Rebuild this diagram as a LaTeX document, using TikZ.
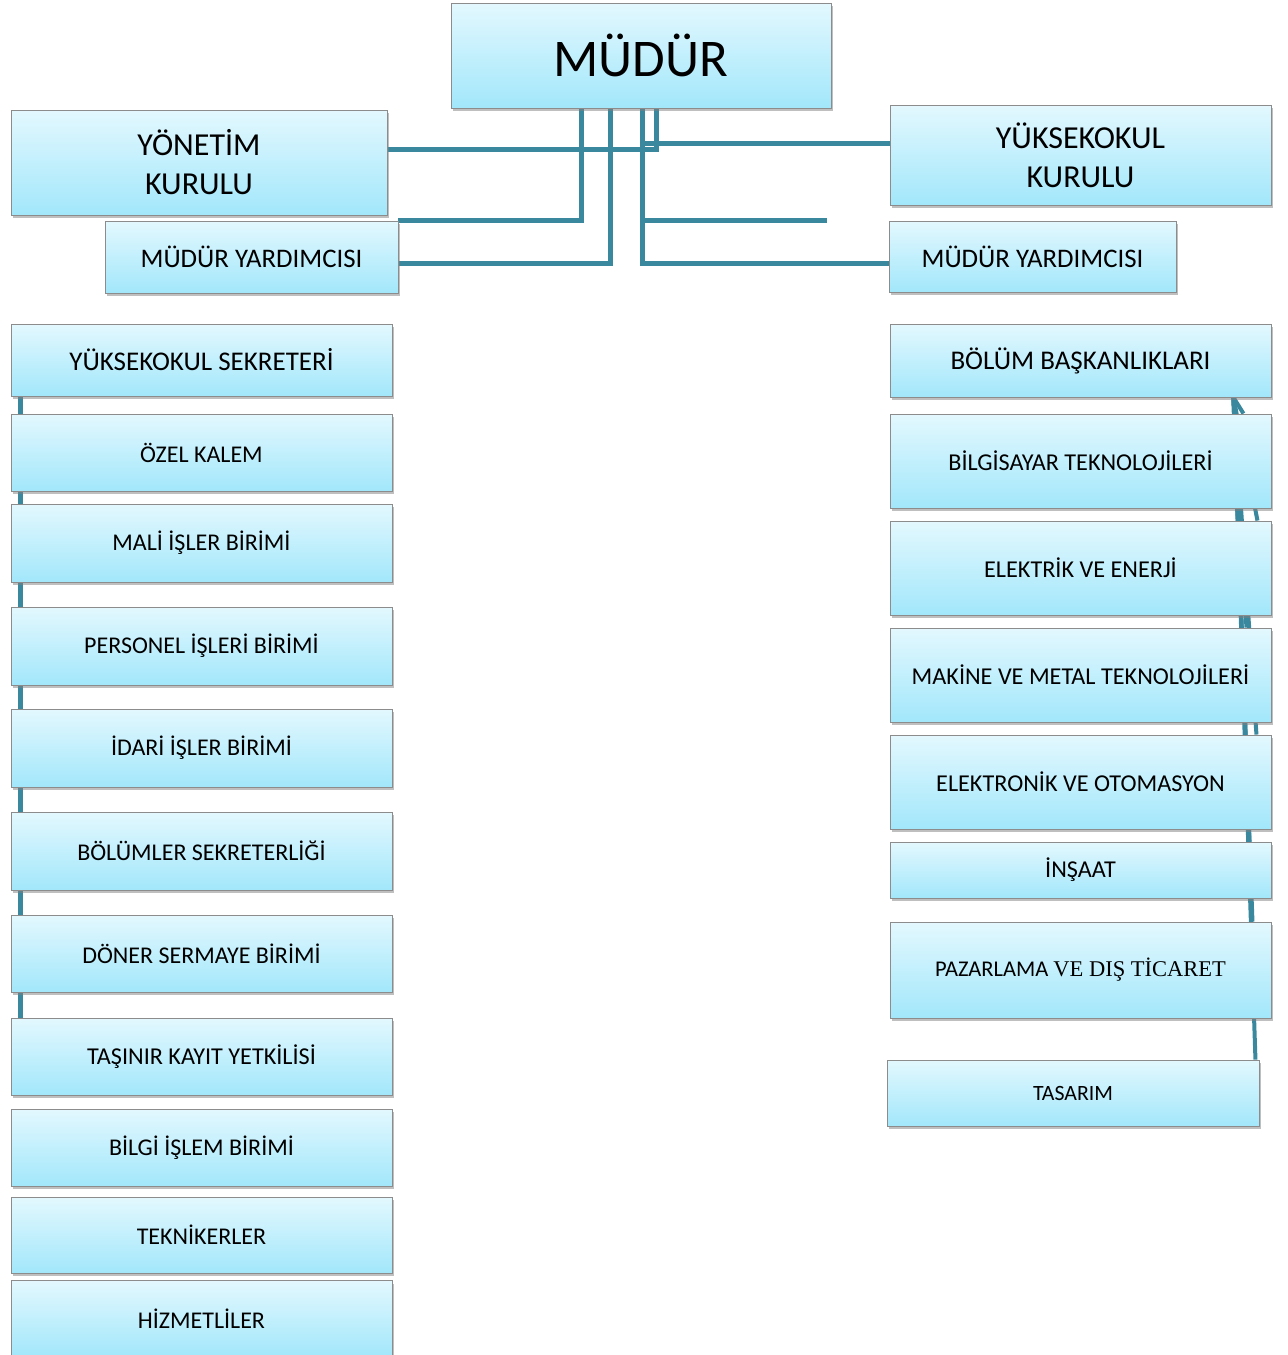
\documentclass[tikz,border=0pt]{standalone}
\usepackage{fontspec}
\setmainfont{Carlito}
\newfontfamily\serifpart{Liberation Serif}
\usetikzlibrary{shadows}
\definecolor{boxtop}{HTML}{E3F8FE}
\definecolor{boxbot}{HTML}{A2E7FB}
\definecolor{linkcol}{HTML}{3A889E}
\pgfdeclarelayer{background}
\pgfsetlayers{background,main}

\begin{document}
\begin{tikzpicture}[x=1pt,y=-1pt,
  unit/.style={draw=gray!90,line width=0.9pt,top color=boxtop,bottom color=boxbot,
    drop shadow={shadow xshift=2pt,shadow yshift=-3pt,opacity=0.5},
    inner sep=0pt,align=center,font=\fontsize{24}{28}\selectfont},
  left/.style={unit,minimum width=381pt},
  dept/.style={unit,minimum width=381pt,font=\fontsize{24.2}{28}\selectfont},
  link/.style={draw=linkcol,line width=5pt},
  thin link/.style={draw=linkcol,line width=4pt}]
\useasboundingbox (0,0) rectangle (1288,1355);

% top
\node[unit,minimum width=380pt,minimum height=105pt,font=\fontsize{53}{60}\selectfont] (mudur) at (641,55.5) {MÜDÜR};
\node[unit,minimum width=376pt,minimum height=105pt,font=\fontsize{32}{39}\selectfont] (yonetim) at (199,162.5) {YÖNETİM\\KURULU};
\node[unit,minimum width=381pt,minimum height=100pt,font=\fontsize{32}{39}\selectfont] (ykurul) at (1080.5,155) {YÜKSEKOKUL\\KURULU};
\node[unit,minimum width=293pt,minimum height=72pt,font=\fontsize{26.8}{30}\selectfont] (mydL) at (251.5,257) {MÜDÜR YARDIMCISI};
\node[unit,minimum width=287pt,minimum height=71pt,font=\fontsize{26.8}{30}\selectfont] (mydR) at (1032.5,256.5) {MÜDÜR YARDIMCISI};

% left column
\node[left,minimum height=72pt,font=\fontsize{27}{30}\selectfont] (sek) at (201.5,360) {YÜKSEKOKUL SEKRETERİ};
\node[left,minimum height=77pt] (ozel) at (201.5,452.5) {ÖZEL KALEM};
\node[left,minimum height=78pt] (mali) at (201.5,543) {MALİ İŞLER BİRİMİ};
\node[left,minimum height=78pt] (pers) at (201.5,646) {PERSONEL İŞLERİ BİRİMİ};
\node[left,minimum height=78pt] (idari) at (201.5,748) {İDARİ İŞLER BİRİMİ};
\node[left,minimum height=78pt] (bolsek) at (201.5,851) {BÖLÜMLER SEKRETERLİĞİ};
\node[left,minimum height=77pt] (doner) at (201.5,953.5) {DÖNER SERMAYE BİRİMİ};
\node[left,minimum height=77pt,font=\fontsize{24.2}{28}\selectfont] (tasinir) at (201.5,1056.5) {TAŞINIR KAYIT YETKİLİSİ};
\node[left,minimum height=77pt] (bilgi) at (201.5,1147.5) {BİLGİ İŞLEM BİRİMİ};
\node[left,minimum height=76pt] (teknik) at (201.5,1235) {TEKNİKERLER};
\node[left,minimum height=76pt] (hizmet) at (201.5,1318.5) {HİZMETLİLER};

% right column
\node[dept,minimum height=73pt,font=\fontsize{27}{30}\selectfont] (bolum) at (1080.5,360.5) {BÖLÜM BAŞKANLIKLARI};
\node[dept,minimum height=94pt] (bilgisayar) at (1080.5,461) {BİLGİSAYAR TEKNOLOJİLERİ};
\node[dept,minimum height=94pt] (elektrik) at (1080.5,568) {ELEKTRİK VE ENERJİ};
\node[dept,minimum height=94pt] (makine) at (1080.5,675) {MAKİNE VE METAL TEKNOLOJİLERİ};
\node[dept,minimum height=94pt] (elektronik) at (1080.5,782) {ELEKTRONİK VE OTOMASYON};
\node[dept,minimum height=56pt] (insaat) at (1080.5,870) {İNŞAAT};
\node[dept,minimum height=96pt,font=\fontsize{22.5}{26}\selectfont] (pazar) at (1080.5,970) {PAZARLAMA {\serifpart VE DIŞ TİCARET}};
\node[dept,minimum width=372pt,minimum height=66pt,font=\fontsize{21.8}{25}\selectfont] (tasarim) at (1073,1093) {TASARIM};

\begin{pgfonlayer}{background}
% links from the director
\coordinate (trunkR) at ([xshift=1pt]mudur.south);
\coordinate (stub) at (827,220);
\coordinate (ykin) at ([yshift=12pt]ykurul.west);
\draw[link] ([xshift=15pt]mudur.south) |- ([yshift=13.5pt]yonetim.east);
\draw[link] (trunkR) |- ([yshift=-6.5pt]mydR.west);
\draw[link] (trunkR |- ykin) -- (ykin);
\draw[link] (trunkR |- stub) -- (stub);
\draw[link] ([xshift=-60pt]mudur.south) |- (mydL.north east);
\draw[link] ([xshift=-31pt]mudur.south) |- ([yshift=-6pt]mydL.east);
% left chain
\foreach \a/\b in {sek/ozel,ozel/mali,mali/pers,pers/idari,idari/bolsek,bolsek/doner,doner/tasinir}
  \draw[link] ([xshift=10pt]\a.south west) -- ([xshift=10pt]\b.north west);
% departments
\foreach \d/\s in {bilgisayar/-28,elektrik/-14,makine/-25,elektronik/-15,insaat/-22,pazar/-19,tasarim/-4}
  \draw[thin link] ([xshift=-38pt]bolum.south east) -- ([xshift=\s pt]\d.north east);
\end{pgfonlayer}
\end{tikzpicture}
\end{document}
